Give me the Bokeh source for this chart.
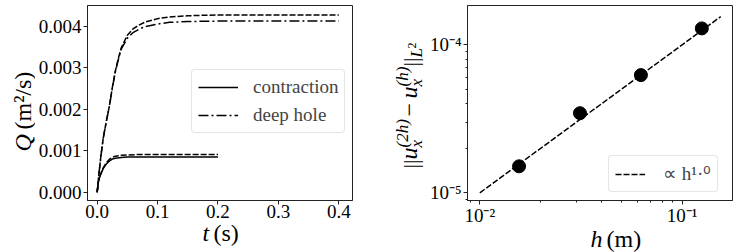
import math
from bokeh.plotting import figure
from bokeh.layouts import row, column
from bokeh.models import (Legend, LegendItem, NumeralTickFormatter, FixedTicker,
                          CustomJSTickFormatter, Range1d)
from bokeh.core.properties import value
from bokeh.embed import file_html
from bokeh.resources import INLINE

FONT = "Liberation Serif"

# ---------------- data: left panel ----------------
t_contraction = [0, 0.002, 0.005, 0.01, 0.015, 0.02, 0.025, 0.03, 0.04, 0.05, 0.07, 0.1, 0.15, 0.2]
q_contraction = [0, 0.00025, 0.00040, 0.00057, 0.00068, 0.00075, 0.00080, 0.00082, 0.00084,
                 0.00085, 0.00085, 0.00085, 0.00085, 0.00085]
q_contraction_ref = [0, 0.00025, 0.00041, 0.00059, 0.00071, 0.00079, 0.00084, 0.00087, 0.00089,
                     0.00090, 0.00091, 0.00091, 0.00091, 0.00091]

t_deep = [0, 0.003, 0.006, 0.01, 0.015, 0.02, 0.025, 0.03, 0.035, 0.04, 0.05, 0.06, 0.07,
          0.08, 0.1, 0.12, 0.15, 0.2, 0.3, 0.4]
q_deep = [0, 0.00045, 0.00085, 0.00130, 0.00170, 0.00205, 0.00250, 0.00290, 0.00320, 0.00346,
          0.00372, 0.00386, 0.00394, 0.00400, 0.00406, 0.00410, 0.00412, 0.00413, 0.00413, 0.00413]
q_deep_ref = [0, 0.00045, 0.00085, 0.00130, 0.00170, 0.00206, 0.00252, 0.00292, 0.00323, 0.00349,
              0.00379, 0.00395, 0.00404, 0.00411, 0.00419, 0.00423, 0.00426, 0.00428, 0.00428, 0.00428]

t_ticks = [0.0, 0.1, 0.2, 0.3, 0.4]
q_ticks = [0.000, 0.001, 0.002, 0.003, 0.004]

# ---------------- data: right panel ----------------
h_values = [0.015625, 0.03125, 0.0625, 0.125]
err_values = [1.51e-5, 3.45e-5, 6.24e-5, 1.29e-4]
fit_h = [0.01, 0.155]
fit_err = [1.0e-5, 1.55e-4]

h_major = [0.01, 0.1]
h_minor = [0.009, 0.02, 0.03, 0.04, 0.05, 0.06, 0.07, 0.08, 0.09, 0.2]
err_major = [1e-5, 1e-4]
err_minor = [9e-6, 2e-5, 3e-5, 4e-5, 5e-5, 6e-5, 7e-5, 8e-5, 9e-5, 2e-4]

AX = "#222222"
R = math.pi / 2
FT, FH, FB = 5, 195, 22     # frame top border, frame height, bottom border (min)
XH = 27                     # height of the x-label strips
XTOP = 222                  # nominal page y of the x-label strips


def style_axes(p, minor=False):
    for ax in (p.xaxis, p.yaxis):
        ax.axis_line_color = AX
        ax.major_tick_line_color = AX
        ax.major_tick_in = 0
        ax.major_tick_out = 4
        ax.major_label_text_font = FONT
        ax.major_label_text_font_size = "19px"
        ax.major_label_text_color = "black"
        if minor:
            ax.minor_tick_line_color = AX
            ax.minor_tick_in = 0
            ax.minor_tick_out = 2
        else:
            ax.minor_tick_line_color = None
    p.xaxis.major_label_standoff = 0
    p.yaxis.major_label_standoff = 2
    p.grid.visible = False
    p.outline_line_color = AX
    p.outline_line_width = 1
    p.background_fill_color = "white"
    p.border_fill_color = "white"


def strip(w, h, top=0, bottom=0):
    s = figure(frame_width=w, frame_height=h, min_border_left=0, min_border_right=0,
               min_border_top=top, min_border_bottom=bottom, x_range=Range1d(0, w),
               y_range=Range1d(0, h), x_axis_location=None, y_axis_location=None,
               output_backend="svg", toolbar_location=None)
    s.grid.visible = False
    s.outline_line_color = None
    s.background_fill_color = "white"
    s.border_fill_color = "white"
    return s


def txt(s, x, y, text, size=24, style="normal", angle=0.0):
    # (x, y): baseline start in page pixels relative to the strip frame's top-left.
    # Text is anchored at its middle, so shift by half of (ascent - descent).
    off = 0.34 * size
    if angle:
        ax_, ay_ = x - off, y
    else:
        ax_, ay_ = x, y - off
    s.text(x=[ax_], y=[s.y_range.end - ay_], text=[text], angle=angle,
           text_font=value(FONT), text_font_size=value(f"{size}px"),
           text_font_style=value(style), text_align=value("left"),
           text_baseline=value("middle"), text_color="black")


def legend_style(lg):
    lg.label_text_font = FONT
    lg.label_text_font_size = "19px"
    lg.border_line_color = "#cccccc"
    lg.border_line_width = 1
    lg.background_fill_alpha = 0.9
    lg.margin = 0
    if "border_radius" in Legend.properties():
        lg.border_radius = 4


# ---------------- left figure ----------------
p1 = figure(frame_width=265, frame_height=FH, min_border_left=52, min_border_right=20,
            min_border_top=FT, min_border_bottom=FB, x_range=Range1d(-0.016, 0.4227),
            y_range=Range1d(-0.0002, 0.004507), output_backend="svg", toolbar_location=None)
style_axes(p1)
p1.xaxis.ticker = FixedTicker(ticks=t_ticks)
p1.yaxis.ticker = FixedTicker(ticks=q_ticks)
p1.xaxis.formatter = NumeralTickFormatter(format="0.0")
p1.yaxis.formatter = NumeralTickFormatter(format="0.000")

p1.line(t_contraction, q_contraction_ref, line_color="black", line_width=1.5, line_dash="6 2")
p1.line(t_deep, q_deep_ref, line_color="black", line_width=1.5, line_dash="6 2")
r_con = p1.line(t_contraction, q_contraction, line_color="black", line_width=1.5)
r_deep = p1.line(t_deep, q_deep, line_color="black", line_width=1.5, line_dash="10 3 2 3")

lg1 = Legend(items=[LegendItem(label="contraction", renderers=[r_con]),
                    LegendItem(label="deep hole", renderers=[r_deep])],
             location=(104, 67), glyph_width=40, glyph_height=20, label_height=20,
             label_standoff=15, padding=6, spacing=6)
legend_style(lg1)
p1.add_layout(lg1)

# y-label strip: frame spans page y 5..200 -> strip y = page_y - 5
yl1 = strip(35, FH, FT, FB)
txt(yl1, 31, 151 - FT, "Q", style="italic", angle=R)
txt(yl1, 31, 129 - FT, "(m²/s)", angle=R)

# x-label strip below the plot
xl1 = strip(372, XH)
txt(xl1, 202, 241 - XTOP, "t", style="italic")
txt(xl1, 213, 241 - XTOP, "(s)")

# ---------------- right figure ----------------
p2 = figure(frame_width=265, frame_height=FH, min_border_left=43, min_border_right=10,
            min_border_top=FT, min_border_bottom=FB, x_axis_type="log", y_axis_type="log",
            x_range=Range1d(0.008691, 0.1772), y_range=Range1d(8.87e-6, 1.842e-4),
            output_backend="svg", toolbar_location=None)
style_axes(p2, minor=True)
p2.xaxis.ticker = FixedTicker(ticks=h_major, minor_ticks=h_minor)
p2.yaxis.ticker = FixedTicker(ticks=err_major, minor_ticks=err_minor)
fmt_code = """
const sup = {'-':'\u207b','0':'\u2070','1':'\u00b9','2':'\u00b2','3':'\u00b3','4':'\u2074',
             '5':'\u2075','6':'\u2076','7':'\u2077','8':'\u2078','9':'\u2079'};
const e = Math.round(Math.log10(tick));
return '10' + String(e).split('').map(c => sup[c]).join('');
"""
p2.xaxis.formatter = CustomJSTickFormatter(code=fmt_code)
p2.yaxis.formatter = CustomJSTickFormatter(code=fmt_code)

r_fit = p2.line(fit_h, fit_err, line_color="black", line_width=1.5, line_dash="6 2")
p2.scatter(h_values, err_values, size=13, fill_color="black", line_color="black")

lg2 = Legend(items=[LegendItem(label="\u221d h\u00b9\u00b7\u2070", renderers=[r_fit])],
             location=(141, 8), glyph_width=30, glyph_height=20, label_height=20,
             label_standoff=18, padding=6, spacing=0)
legend_style(lg2)
p2.add_layout(lg2)

# y label ||u_x^(2h) - u_x^(h)||_{L^2}, rotated, read bottom-to-top (strip at page x 372)
yl2 = strip(52, FH, FT, FB)
MAIN, SUB, SUP = 45, 50, 36
txt(yl2, MAIN, 168 - FT, "||", size=22, angle=R)
txt(yl2, MAIN, 159 - FT, "u", style="italic", angle=R)
txt(yl2, SUB, 147 - FT, "x", size=17, style="italic", angle=R)
txt(yl2, SUP, 147 - FT, "(2h)", size=17, style="italic", angle=R)
txt(yl2, MAIN, 116 - FT, "\u2212", angle=R)
txt(yl2, MAIN, 98 - FT, "u", style="italic", angle=R)
txt(yl2, SUB, 86 - FT, "x", size=17, style="italic", angle=R)
txt(yl2, SUP, 86 - FT, "(h)", size=17, style="italic", angle=R)
txt(yl2, MAIN, 66 - FT, "||", size=22, angle=R)
txt(yl2, SUB, 57 - FT, "L", size=17, style="italic", angle=R)
txt(yl2, 44, 48 - FT, "2", size=12, angle=R)

xl2 = strip(370, XH)
txt(xl2, 218, 241 - XTOP, "h", style="italic")
txt(xl2, 234, 241 - XTOP, "(m)")

left = column(row(yl1, p1, spacing=0), xl1, spacing=0)
right = column(row(yl2, p2, spacing=0), xl2, spacing=0)
layout = row(left, right, spacing=0)
open("out.html", "w").write(file_html(layout, INLINE))
